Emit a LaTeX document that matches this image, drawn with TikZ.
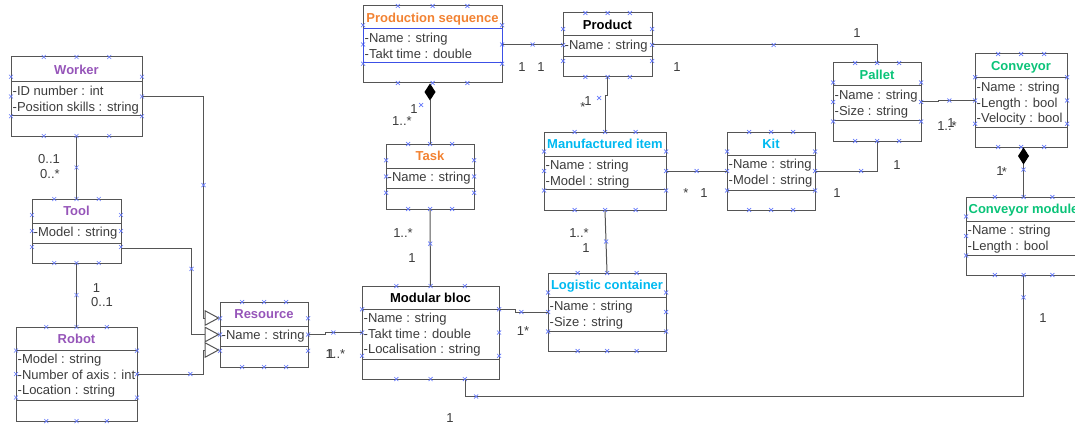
\documentclass[tikz,border=0pt]{standalone}
\usepackage{fontspec}
\setmainfont{Liberation Sans}
\usetikzlibrary{arrows.meta,fit,positioning}

\definecolor{edgegray}{RGB}{85,85,85}
\definecolor{txtgray}{RGB}{60,60,60}
\definecolor{tpurple}{RGB}{150,85,185}
\definecolor{torange}{RGB}{242,130,50}
\definecolor{tcyan}{RGB}{0,185,240}
\definecolor{tgreen}{RGB}{10,195,120}
\definecolor{markblue}{RGB}{100,120,250}
\definecolor{selblue}{RGB}{60,80,230}

\tikzset{
    classbox/.style = {draw = edgegray, line width = 1pt, inner sep = 0pt},
    classsep/.style = {draw = edgegray, line width = 1pt},
    classtitle/.style = {anchor = base, inner sep = 0pt, font = \fontsize{13}{15}\selectfont\bfseries},
    classattr/.style = {anchor = base west, inner sep = 0pt, text = txtgray, font = \fontsize{13}{15}\selectfont},
    assoc/.style = {draw = edgegray, line width = 1pt},
    mult/.style = {inner sep = 0pt, text = txtgray, text height = 9.4pt, text depth = 0pt,
        font = \fontsize{13}{15}\selectfont},
    xmark/.pic = {\draw[arrows = -, markblue, line width = 0.7pt] (-2,-2) -- (2,2) (-2,2) -- (2,-2);}
}

\newcommand{\umlclass}[9]{%
    \node[classbox, fit = {(#2,#3) (#4,#7)}] (#1) {};
    \draw[classsep] (#2,#5) -- (#4,#5) (#2,#6) -- (#4,#6);
    \node[classtitle] (#1-title) at ({(#2+#4)/2},{(#3+#5)/2+4.6}) {#8};
    \foreach \a [count = \i] in {#9}
        \node[classattr] (#1-attr\i) at ({#2+1.5},{#5+13.7+15.4*(\i-1)}) {\a};
    \foreach \f in {0.25,0.5,0.75} {
        \pic at ({#2+(#4-#2)*\f},#3) {xmark};
        \pic at ({#2+(#4-#2)*\f},#7) {xmark};
        \pic at (#2,{#3+(#7-#3)*\f}) {xmark};
        \pic at (#4,{#3+(#7-#3)*\f}) {xmark};
    }
}

\begin{document}
\begin{tikzpicture}[x = 1pt, y = -1pt]
    \useasboundingbox (0,0) rectangle (1075,425);
    \clip (0,0) rectangle (1075,425);

    \umlclass{worker}{11}{57}{142}{82}{116}{136}{\textcolor{tpurple}{Worker}}{-ID number : int, -Position skills : string}
    \umlclass{tool}{32}{199}{121}{223}{243}{263}{\textcolor{tpurple}{Tool}}{-Model : string}
    \umlclass{robot}{16}{327}{137}{350}{400}{421}{\textcolor{tpurple}{Robot}}{-Model : string, -Number of axis : int, -Location : string}
    \umlclass{resource}{220}{302}{308}{326}{346}{367}{\textcolor{tpurple}{Resource}}{-Name : string}
    \umlclass{modbloc}{362}{286}{499}{309}{359}{379}{\textcolor{black}{Modular bloc}}{-Name : string, -Takt time : double, -Localisation : string}
    \umlclass{prodseq}{363}{6}{502}{29}{63}{83}{\textcolor{torange}{Production sequence}}{-Name : string, -Takt time : double}
    \umlclass{task}{386}{144}{474}{168}{188}{209}{\textcolor{torange}{Task}}{-Name : string}
    \umlclass{product}{563}{13}{652}{36}{57}{77}{\textcolor{black}{Product}}{-Name : string}
    \umlclass{manuf}{544}{132}{666}{156}{189}{210}{\textcolor{tcyan}{Manufactured item}}{-Name : string, -Model : string}
    \umlclass{logistic}{548}{273}{666}{297}{331}{351}{\textcolor{tcyan}{Logistic container}}{-Name : string, -Size : string}
    \umlclass{kit}{727}{132}{815}{155}{190}{210}{\textcolor{tcyan}{Kit}}{-Name : string, -Model : string}
    \umlclass{pallet}{833}{63}{921}{86}{121}{141}{\textcolor{tgreen}{Pallet}}{-Name : string, -Size : string}
    \umlclass{conveyor}{975}{54}{1067}{78}{127}{147}{\textcolor{tgreen}{Conveyor}}{-Name : string, -Length : bool, -Velocity : bool}
    \umlclass{convmod}{966}{197}{1081}{221}{255}{275}{\textcolor{tgreen}{Conveyor module}}{-Name : string, -Length : bool}

    \draw[selblue, line width = 1pt] (363,29) rectangle (502,63);

    % generalisations
    \draw[assoc, -{Triangle[open, length = 15pt, width = 16pt]}] (worker.east)
        -| pic[pos = 0.7]{xmark} ([xshift = -16pt, yshift = 16.5pt]resource.west) -- ([yshift = 16.5pt]resource.west);
    \draw[assoc, -{Triangle[open, length = 15pt, width = 16pt]}] ([yshift = -17pt]tool.east)
        -| pic[pos = 0.62]{xmark} ([xshift = -28pt]resource.west) -- (resource.west);
    \draw[assoc, -{Triangle[open, length = 15pt, width = 16pt]}] (robot.east)
        -| pic[pos = 0.4]{xmark} ([xshift = -16pt, yshift = -15.5pt]resource.west) -- ([yshift = -15.5pt]resource.west);

    % associations
    \draw[assoc] (worker.south) -- pic[pos = 0.5]{xmark} (tool.north);
    \draw[assoc] (tool.south) -- pic[pos = 0.5]{xmark} (robot.north);
    \draw[assoc] (resource.east) -- ++(17,0) |- pic[pos = 0.61]{xmark} (modbloc.west);
    \draw[assoc] (task.south) -- pic[pos = 0.45]{xmark} (modbloc.north);
    \draw[assoc] (prodseq.east) -- pic[pos = 0.5]{xmark} (prodseq.east -| product.west);
    \draw[assoc] (product.east) -| pic[pos = 0.27]{xmark} (pallet.north);
    \draw[assoc] (product.south) -- ++(0,18) -| (manuf.north);
    \draw[assoc] (manuf.east) -- pic[pos = 0.5]{xmark} (kit.west);
    \draw[assoc] (kit.east) -| pic[pos = 0.37]{xmark} (pallet.south);
    \draw[assoc] (pallet.east) -- ++(17,0) |- pic[pos = 0.65]{xmark} (conveyor.west);
    \draw[assoc] (manuf.south) -- pic[pos = 0.5]{xmark} (logistic.north);
    \draw[assoc] ([yshift = 23.5pt]modbloc.east) -- ++(16,0) |- pic[pos = 0.59]{xmark} (logistic.west);
    \draw[assoc] (convmod.south) |- pic[pos = 0.09]{xmark} pic[pos = 0.99]{xmark}
        ([xshift = 34.5pt, yshift = -17pt]modbloc.south) -- ([xshift = 34.5pt]modbloc.south);

    % compositions
    \draw[assoc, {Diamond[length = 17pt, width = 11pt, color = black]}-] (prodseq.south -| task.north) -- (task.north);
    \draw[assoc, {Diamond[length = 17pt, width = 11pt, color = black]}-] (conveyor.south -| convmod.north)
        -- pic[pos = 0.45]{xmark} (convmod.north);
    \pic at (421,105) {xmark};
    \pic at (599,98) {xmark};

    % multiplicities
    \node[mult] (wt-a) at (49,159) {0..1};
    \node[mult] (wt-b) at (50,174) {0..*};
    \node[mult] (tr-a) at (96.5,288) {1};
    \node[mult] (tr-b) at (102,302) {0..1};
    \node[mult] (rm-a) at (335.5,354) {1..*};
    \node[mult] (rm-b) at (331,354) {1};
    \node[mult] (mc-a) at (450,418) {1};
    \node[mult] (mc-b) at (1043,318) {1};
    \node[mult] (pt-a) at (414,109) {1};
    \node[mult] (pt-b) at (402,121) {1..*};
    \node[mult] (tm-a) at (403,233) {1..*};
    \node[mult] (tm-b) at (412,258) {1};
    \node[mult] (pp-a) at (522,67) {1};
    \node[mult] (pp-b) at (541,67) {1};
    \node[mult] (pl-a) at (857,33) {1};
    \node[mult] (pl-b) at (677,67) {1};
    \node[mult] (pm-a) at (583,107) {*};
    \node[mult] (pm-b) at (588,101) {1};
    \node[mult] (ml-a) at (579,233) {1..*};
    \node[mult] (ml-b) at (586,248) {1};
    \node[mult] (lc-a) at (523,331) {1*};
    \node[mult] (mk-a) at (686,193) {*};
    \node[mult] (mk-b) at (704,193) {1};
    \node[mult] (kp-a) at (897,165) {1};
    \node[mult] (kp-b) at (837,193) {1};
    \node[mult] (pc-a) at (947,126) {1..*};
    \node[mult] (pc-b) at (951,123) {1};
    \node[mult] (cc-a) at (1000,171) {1};
    \node[mult] (cc-b) at (1004.5,172) {*};
\end{tikzpicture}
\end{document}
